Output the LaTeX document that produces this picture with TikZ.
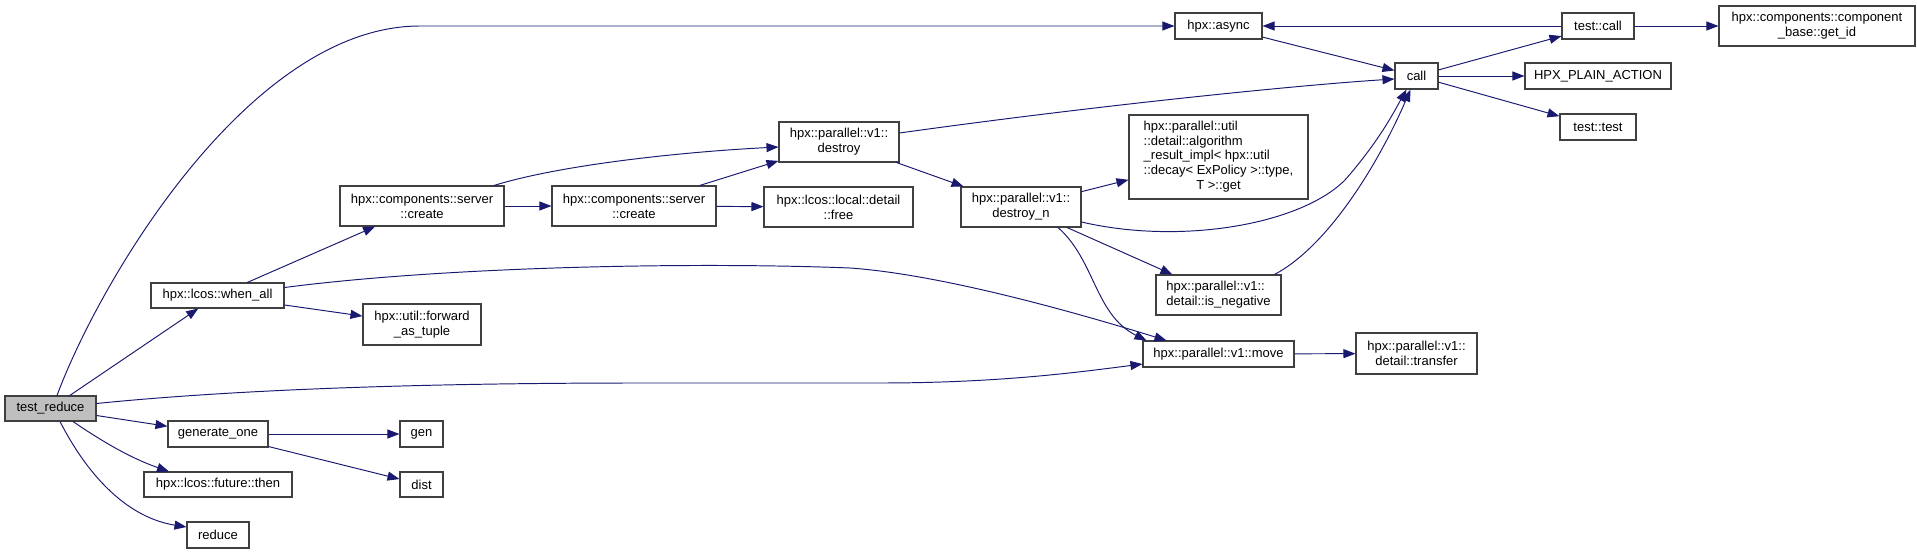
\documentclass[tikz,border=0pt]{standalone}
\usepackage{fontspec}
\setmainfont{Liberation Sans}
\usetikzlibrary{arrows.meta,calc}
\definecolor{edgeblue}{RGB}{25,25,112}

\begin{document}
\begin{tikzpicture}[x=0.02cm,y=-0.02cm,
  fn/.style={draw=black!75, line width=0.6pt, inner sep=1pt, align=center, font=\fontsize{7.4pt}{8.4pt}\selectfont},
  sz/.style 2 args={minimum width=#1*0.02cm, minimum height=#2*0.02cm},
  callarrow/.style={draw=edgeblue, line width=0.55pt, -{Triangle[length=0.24cm,width=0.18cm]}}]
\useasboundingbox (0,0) rectangle (1917,554);
% functions:
\node[fn, sz={91}{25}, fill=black!25] (testreduce) at (50.5,408.5) {test\_reduce};
\node[fn, sz={133}{25}] (whenall) at (217.5,295.5) {hpx::lcos::when\_all};
\node[fn, sz={100}{26}] (generateone) at (218,434) {generate\_one};
\node[fn, sz={148}{25}] (futurethen) at (218,484.5) {hpx::lcos::future::then};
\node[fn, sz={62}{26}] (reduce) at (218,535) {reduce};
\node[fn, sz={164}{40}] (servercreate) at (422,206) {hpx::components::server\\::create};
\node[fn, sz={118}{41}] (forwardtuple) at (422,324.5) {hpx::util::forward\\\_as\_tuple};
\node[fn, sz={43}{26}] (gen) at (421.5,434) {gen};
\node[fn, sz={43}{25}] (dist) at (421.5,484.5) {dist};
\node[fn, sz={164}{40}] (servercreateb) at (634,206) {hpx::components::server\\::create};
\node[fn, sz={120}{40}] (destroy) at (839,142) {hpx::parallel::v1::\\destroy};
\node[fn, sz={149}{40}] (free) at (838.5,207) {hpx::lcos::local::detail\\::free};
\node[fn, sz={120}{40}] (destroyn) at (1021,207) {hpx::parallel::v1::\\destroy\_n};
\node[fn, sz={87}{26}] (async) at (1218.5,26) {hpx::async};
\node[fn, sz={179}{84}] (algoresult) at (1218.5,157) {\begin{tabular}{@{}l@{}}hpx::parallel::util\\::detail::algorithm\\\_result\_impl< hpx::util\\::decay< ExPolicy >::type,\\\multicolumn{1}{@{}c@{}}{T >::get}\end{tabular}};
\node[fn, sz={125}{40}, align=left] (isnegative) at (1218.5,295) {hpx::parallel::v1::\\detail::is\_negative};
\node[fn, sz={151}{26}] (move) at (1218.5,354) {hpx::parallel::v1::move};
\node[fn, sz={43}{26}] (call) at (1416.5,76) {call};
\node[fn, sz={121}{41}] (transfer) at (1416.5,353.5) {hpx::parallel::v1::\\detail::transfer};
\node[fn, sz={72}{26}] (testcall) at (1598,26) {test::call};
\node[fn, sz={146}{26}] (plainaction) at (1598,76) {HPX\_PLAIN\_ACTION};
\node[fn, sz={76}{26}] (testtest) at (1598,127) {test::test};
\node[fn, sz={196}{40}] (getid) at (1817,26) {hpx::components::component\\\_base::get\_id};
% calls from test_reduce:
\draw[callarrow] ($(testreduce.north)+(6.5,0)$) .. controls (100,280) and (250,26) .. (420,26) -- (async.west);
\draw[callarrow] (testreduce) -- (whenall);
\draw[callarrow] ($(testreduce.east)+(0,-5)$) .. controls (250,388) and (450,383) .. (640,383) -- (880,383) .. controls (1000,383) and (1080,372) .. ($(move.west)+(0,10)$);
\draw[callarrow] (testreduce) -- (generateone);
\draw[callarrow] ($(testreduce.south)+(22.5,0)$) .. controls (100,440) and (130,458) .. ($(futurethen.north)+(-49,0)$);
\draw[callarrow] ($(testreduce.south)+(9.5,0)$) .. controls (90,480) and (130,518) .. ($(reduce.west)+(0,-8)$);
% when_all:
\draw[callarrow] (whenall) -- (servercreate);
\draw[callarrow] (whenall) -- (forwardtuple);
\draw[callarrow] ($(whenall.east)+(0,-8)$) .. controls (450,266) and (700,262) .. (850,268) .. controls (950,275) and (1100,320) .. ($(move.north)+(-52,0)$);
% create and destroy:
\draw[callarrow] ($(servercreate.north)+(72,0)$) .. controls (560,165) and (680,152) .. ($(destroy.west)+(0,5)$);
\draw[callarrow] (servercreate) -- (servercreateb);
\draw[callarrow] (servercreateb) -- (destroy);
\draw[callarrow] (servercreateb) -- (free);
\draw[callarrow] ($(destroy.east)+(0,-9)$) .. controls (1100,105) and (1300,85) .. ($(call.west)+(0,3)$);
\draw[callarrow] (destroy) -- (destroyn);
% destroy_n:
\draw[callarrow] (destroyn) -- (algoresult);
\draw[callarrow] ($(destroyn.east)+(0,15)$) .. controls (1180,245) and (1300,225) .. (1345,180) .. controls (1380,140) and (1395,110) .. ($(call.south)+(-10,0)$);
\draw[callarrow] (destroyn) -- (isnegative);
\draw[callarrow] ($(destroyn.south)+(37,0)$) .. controls (1095,260) and (1095,315) .. ($(move.north)+(-72,0)$);
\draw[callarrow] ($(isnegative.north)+(56,0)$) .. controls (1330,245) and (1380,160) .. ($(call.south)+(-6,0)$);
\draw[callarrow] (move) -- (transfer);
% generate_one:
\draw[callarrow] (generateone) -- (gen);
\draw[callarrow] (generateone) -- (dist);
% call and test::call:
\draw[callarrow] (async) -- (call);
\draw[callarrow] (call) -- (testcall);
\draw[callarrow] (call) -- (plainaction);
\draw[callarrow] (call) -- (testtest);
\draw[callarrow] (testcall) -- (async);
\draw[callarrow] (testcall) -- (getid);
\end{tikzpicture}
\end{document}
